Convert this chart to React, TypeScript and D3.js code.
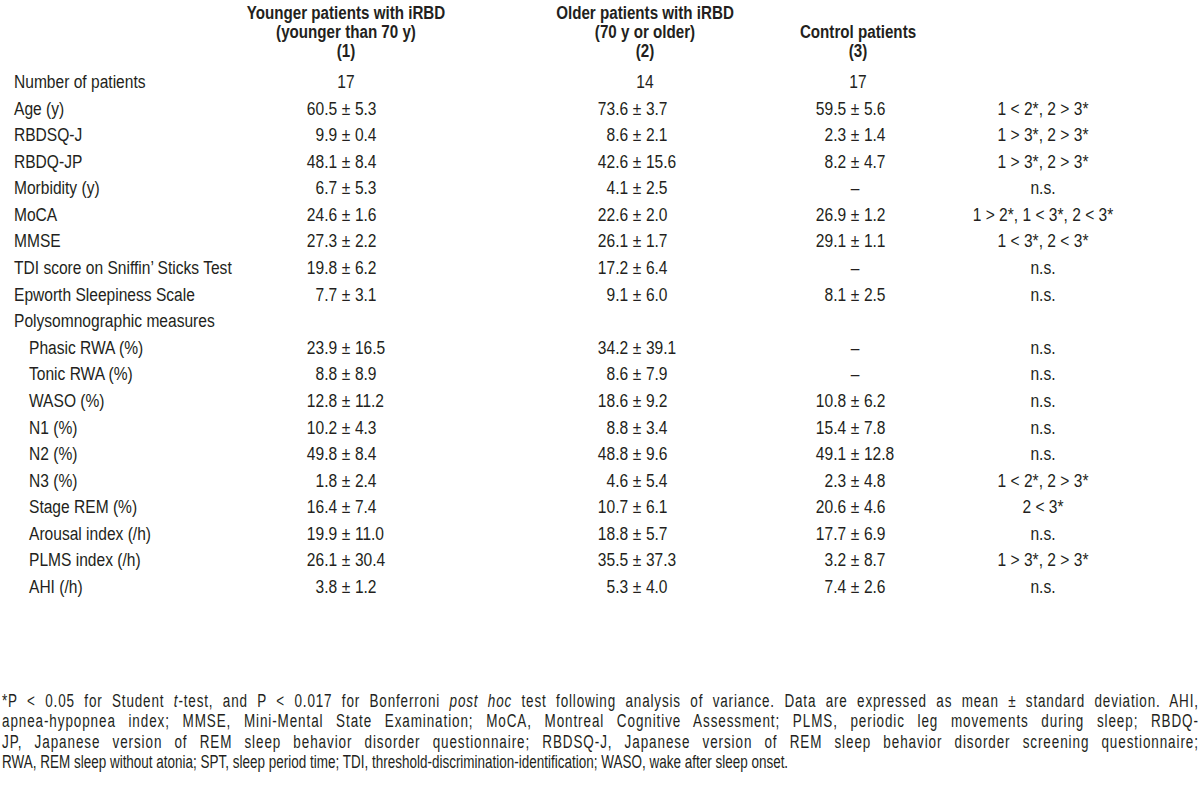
import React, { useLayoutEffect, useRef, useState } from "react";
import * as d3 from "d3";

const headers1 = ["Younger patients with iRBD", "(younger than 70 y)", "(1)"];
const headers2 = ["Older patients with iRBD", "(70 y or older)", "(2)"];
const headers3 = ["", "Control patients", "(3)"];

const metrics = [
  "Number of patients", "Age (y)", "RBDSQ-J", "RBDQ-JP", "Morbidity (y)", "MoCA", "MMSE",
  "TDI score on Sniffin\u2019 Sticks Test", "Epworth Sleepiness Scale", "Polysomnographic measures",
  "Phasic RWA (%)", "Tonic RWA (%)", "WASO (%)", "N1 (%)", "N2 (%)", "N3 (%)", "Stage REM (%)",
  "Arousal index (/h)", "PLMS index (/h)", "AHI (/h)",
];
const indented = [
  false, false, false, false, false, false, false, false, false, false,
  true, true, true, true, true, true, true, true, true, true,
];
const younger = [
  "17", "60.5 ± 5.3", "9.9 ± 0.4", "48.1 ± 8.4", "6.7 ± 5.3", "24.6 ± 1.6", "27.3 ± 2.2",
  "19.8 ± 6.2", "7.7 ± 3.1", "", "23.9 ± 16.5", "8.8 ± 8.9", "12.8 ± 11.2", "10.2 ± 4.3",
  "49.8 ± 8.4", "1.8 ± 2.4", "16.4 ± 7.4", "19.9 ± 11.0", "26.1 ± 30.4", "3.8 ± 1.2",
];
const older = [
  "14", "73.6 ± 3.7", "8.6 ± 2.1", "42.6 ± 15.6", "4.1 ± 2.5", "22.6 ± 2.0", "26.1 ± 1.7",
  "17.2 ± 6.4", "9.1 ± 6.0", "", "34.2 ± 39.1", "8.6 ± 7.9", "18.6 ± 9.2", "8.8 ± 3.4",
  "48.8 ± 9.6", "4.6 ± 5.4", "10.7 ± 6.1", "18.8 ± 5.7", "35.5 ± 37.3", "5.3 ± 4.0",
];
const control = [
  "17", "59.5 ± 5.6", "2.3 ± 1.4", "8.2 ± 4.7", "\u2013", "26.9 ± 1.2", "29.1 ± 1.1",
  "\u2013", "8.1 ± 2.5", "", "\u2013", "\u2013", "10.8 ± 6.2", "15.4 ± 7.8",
  "49.1 ± 12.8", "2.3 ± 4.8", "20.6 ± 4.6", "17.7 ± 6.9", "3.2 ± 8.7", "7.4 ± 2.6",
];
const comparisons = [
  "", "1 < 2*, 2 > 3*", "1 > 3*, 2 > 3*", "1 > 3*, 2 > 3*", "n.s.", "1 > 2*, 1 < 3*, 2 < 3*",
  "1 < 3*, 2 < 3*", "n.s.", "n.s.", "", "n.s.", "n.s.", "n.s.", "n.s.", "n.s.",
  "1 < 2*, 2 > 3*", "2 < 3*", "n.s.", "1 > 3*, 2 > 3*", "n.s.",
];

type Seg = { t: string; i?: boolean };
const footnoteLines: Seg[][] = [
  [{ t: "*P < 0.05 for Student " }, { t: "t", i: true }, { t: "-test, and P < 0.017 for Bonferroni " }, { t: "post hoc", i: true }, { t: " test following analysis of variance. Data are expressed as mean ± standard deviation. AHI," }],
  [{ t: "apnea-hypopnea index; MMSE, Mini-Mental State Examination; MoCA, Montreal Cognitive Assessment; PLMS, periodic leg movements during sleep; RBDQ-" }],
  [{ t: "JP, Japanese version of REM sleep behavior disorder questionnaire; RBDSQ-J, Japanese version of REM sleep behavior disorder screening questionnaire;" }],
  [{ t: "RWA, REM sleep without atonia; SPT, sleep period time; TDI, threshold-discrimination-identification; WASO, wake after sleep onset." }],
];
const footnoteJustify = [true, true, true, false];

const FONT = "'Liberation Sans', Arial, Helvetica, sans-serif";
const COLOR = "#231f20";
const SX = 0.82;
const SXB = 0.82;
const FSX = 0.71;
const FSIZE = 19;

function T(props: { x: number; y: number; anchor?: string; bold?: boolean; size?: number; sx?: number; children: React.ReactNode }) {
  const { x, y, anchor = "start", bold = false, size = 19, sx = SX } = props;
  return (
    <text
      transform={`translate(${x},${y}) scale(${sx},1)`}
      textAnchor={anchor}
      fontFamily={FONT}
      fontSize={size}
      fontWeight={bold ? "bold" : "normal"}
      fill={COLOR}
    >
      {props.children}
    </text>
  );
}

function Cell({ s, x, y, center }: { s: string; x: number; y: number; center: number }) {
  if (!s) return null;
  const parts = s.split(" ± ");
  if (parts.length === 2) {
    const off = 19 * SX * (0.278 + 0.292);
    return (
      <g>
        <T x={x - off} y={y} anchor="end">{parts[0]}</T>
        <T x={x} y={y} anchor="middle">±</T>
        <T x={x + off} y={y} anchor="start">{parts[1]}</T>
      </g>
    );
  }
  return <T x={s === "\u2013" ? x : center} y={y} anchor="middle">{s}</T>;
}

export default function App() {
  const W = 1200, H = 794;
  const n = metrics.length;
  const y = d3.scaleLinear().domain([0, n - 1]).range([88, 88 + (n - 1) * 26.58]);
  const cols = ["g1", "g2", "g3", "cmp"];
  const pmX = d3.scaleOrdinal<string, number>().domain(cols).range([346, 637, 855, 1043]);
  const headX = d3.scaleOrdinal<string, number>().domain(cols).range([346, 645, 858, 1043]);
  const headY = d3.scaleLinear().domain([0, 2]).range([19, 57]);
  const footY = d3.scaleLinear().domain([0, 3]).range([707, 768]);
  const groups = [younger, older, control];
  const heads = [headers1, headers2, headers3];

  const refs = useRef<(SVGTextElement | null)[]>([]);
  const [sp, setSp] = useState<{ ws: number; ls: number }[]>(footnoteLines.map(() => ({ ws: 0, ls: 0 })));
  useLayoutEffect(() => {
    const target = 1196 / FSX;
    const next = footnoteLines.map((segs, i) => {
      const el = refs.current[i];
      if (!el || !footnoteJustify[i]) return { ws: 0, ls: 0 };
      const natural = el.getComputedTextLength();
      const txt = segs.map((s) => s.t).join("");
      const spaces = txt.split(" ").length - 1;
      const extra = target - natural;
      return { ws: (extra * 0.5) / Math.max(1, spaces), ls: (extra * 0.5) / (txt.length - 1) };
    });
    setSp(next);
  }, []);

  return (
    <svg width={W} height={H} style={{ position: "absolute", left: 0, top: 0, background: "#fff" }}>
      <rect width={W} height={H} fill="#fff" />
      {heads.map((h, ci) =>
        h.map((line, li) =>
          line ? (
            <T key={`h${ci}-${li}`} x={headX(cols[ci])} y={headY(li)} anchor="middle" bold size={18.5} sx={SXB}>
              {line}
            </T>
          ) : null
        )
      )}
      {metrics.map((m, i) => (
        <g key={`r${i}`}>
          <T x={indented[i] ? 29 : 14} y={y(i)}>{m}</T>
          {groups.map((g, ci) => (
            <Cell key={ci} s={g[i]} x={pmX(cols[ci])} y={y(i)} center={headX(cols[ci])} />
          ))}
          {comparisons[i] ? (
            <T x={pmX("cmp")} y={y(i)} anchor="middle">{comparisons[i]}</T>
          ) : null}
        </g>
      ))}
      {footnoteLines.map((segs, li) => (
        <text
          key={`f${li}`}
          ref={(el) => { refs.current[li] = el; }}
          transform={`translate(2,${footY(li)}) scale(${FSX},1)`}
          fontFamily={FONT}
          fontSize={FSIZE}
          fill={COLOR}
          style={{ wordSpacing: `${sp[li].ws}px`, letterSpacing: `${sp[li].ls}px` }}
        >
          {segs.map((s, si) => (
            <tspan key={si} fontStyle={s.i ? "italic" : "normal"}>{s.t}</tspan>
          ))}
        </text>
      ))}
    </svg>
  );
}
